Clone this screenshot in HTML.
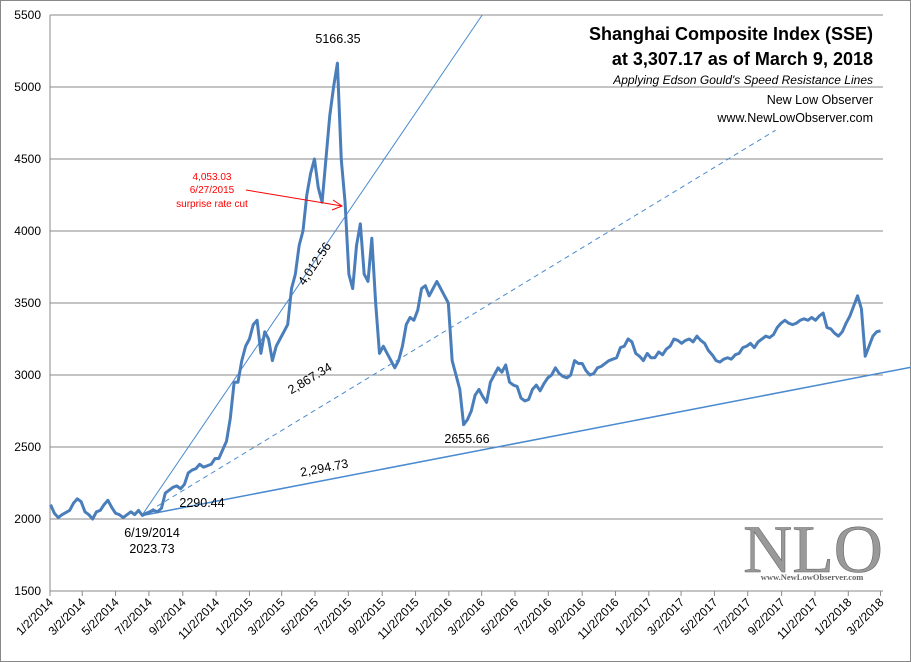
<!DOCTYPE html>
<html><head><meta charset="utf-8"><style>
body{margin:0;background:#fff}
svg{display:block;font-family:"Liberation Sans",sans-serif}
</style></head><body>
<svg id="c" width="911" height="662">
<rect x="0.5" y="0.5" width="910" height="661" fill="#fff" stroke="#888"/>
<g id="grid"></g><g id="axes"></g><g id="lines"></g><g id="series"></g>
<g font-size="12.5" fill="#000">
<text x="338" y="43" text-anchor="middle">5166.35</text>
<text x="467" y="443" text-anchor="middle">2655.66</text>
<text x="202" y="507" text-anchor="middle">2290.44</text>
<text x="152" y="537" text-anchor="middle">6/19/2014</text>
<text x="152" y="553" text-anchor="middle">2023.73</text>
<text transform="translate(318,266) rotate(-56)" text-anchor="middle">4,012.56</text>
<text transform="translate(312,382) rotate(-31)" text-anchor="middle">2,867.34</text>
<text transform="translate(325,472) rotate(-11)" text-anchor="middle">2,294.73</text>
</g>
<g fill="#f00" font-size="10" text-anchor="middle">
<text x="212" y="180">4,053.03</text><text x="212" y="193">6/27/2015</text><text x="212" y="207">surprise rate cut</text>
<line x1="246" y1="190" x2="342" y2="206" stroke="#f00" stroke-width="1"/>
<polyline points="333,200 342,206 332,210" fill="none" stroke="#f00"/>
</g>
<g text-anchor="end">
<rect x="585" y="18" width="296" height="58" fill="#fff"/>
<text x="873" y="40" font-size="18" font-weight="bold">Shanghai Composite Index (SSE)</text>
<text x="873" y="65" font-size="18" font-weight="bold">at 3,307.17 as of March 9, 2018</text>
<text x="873" y="84" font-size="12" font-style="italic">Applying Edson Gould's Speed Resistance Lines</text>
<text x="873" y="104" font-size="12.5">New Low Observer</text>
<text x="873" y="122" font-size="12.5">www.NewLowObserver.com</text>
</g>
<g font-family="'Liberation Serif',serif" fill="#888">
<text x="813" y="572" font-size="68" text-anchor="middle" fill="#999" stroke="#666" stroke-width="0.6">NLO</text>
<text x="812" y="580" font-size="8.5" font-weight="bold" text-anchor="middle" fill="#666">www.NewLowObserver.com</text>
</g>
</svg>
<script>
const yTicks=[1500,2000,2500,3000,3500,4000,4500,5000,5500];
const xTickLabels=["1/2/2014","3/2/2014","5/2/2014","7/2/2014","9/2/2014","11/2/2014","1/2/2015","3/2/2015","5/2/2015","7/2/2015","9/2/2015","11/2/2015","1/2/2016","3/2/2016","5/2/2016","7/2/2016","9/2/2016","11/2/2016","1/2/2017","3/2/2017","5/2/2017","7/2/2017","9/2/2017","11/2/2017","1/2/2018","3/2/2018"];
const v2014=[2100,2040,2010,2030,2045, 2060,2110,2140,2120, 2050,2030,2000,2050, 2060,2100,2130,2080,2040, 2030,2010,2030,2050, 2030,2060,2025,2040, 2050,2060,2050,2075,2180, 2200,2220,2230,2210, 2240,2320,2340,2350, 2380,2360,2370,2380,2420, 2420,2480,2540,2700, 2950,2950,3100,3200];
const v2015=[3250,3350,3380,3150,3300, 3250,3100,3200,3250, 3300,3350,3600,3700, 3900,4000,4250,4400,4500, 4300,4200,4500,4800, 5000,5166,4500,4200, 3700,3600,3900,4050,3700, 3650,3950,3500,3150, 3200,3150,3100,3050, 3100,3200,3350,3400,3380, 3450,3600,3620,3550, 3600,3650,3600,3550];
const v2016=[3500,3100,3000,2900,2655, 2690,2750,2860,2900, 2850,2810,2950,3000, 3050,3020,3070,2950,2930, 2920,2840,2820,2830, 2900,2930,2890,2940, 2980,3000,3050,3010,2990, 2980,3000,3100,3080, 3080,3030,3000,3010, 3050,3060,3080,3100,3110, 3120,3190,3200,3250, 3230,3150,3130,3100];
const v2017=[3150,3120,3120,3160,3140, 3180,3200,3250,3240, 3220,3240,3250,3230, 3270,3240,3220,3170,3140, 3100,3090,3110,3120, 3110,3140,3150,3190, 3200,3220,3190,3230,3250, 3270,3260,3280,3330, 3360,3380,3360,3350, 3360,3380,3390,3380,3400, 3380,3410,3430,3330, 3320,3290,3270,3300];
const v2018=[3360,3410,3480,3550,3460,3130,3200,3270,3300,3307];
const speedStartDay=[168], speedStartVal=[2023.73];
const speedEndDay=[791,1328,1577], speedEndVal=[5500,4700,3055];
const L=50,R=883,T=15,B=591;
const x=d=>L+d*0.5464;
const y=v=>B-(v-1500)*(B-T)/4000;
const NS="http://www.w3.org/2000/svg";
function mk(tag,parent,attrs){const e=document.createElementNS(NS,tag);for(const k in attrs)e.setAttribute(k,attrs[k]);document.getElementById(parent).appendChild(e);return e;}
yTicks.forEach(v=>{
 if(v>1500){const g=mk('line','grid',{x1:L,x2:R,y1:y(v),y2:y(v),stroke:'#8a8a8a','stroke-width':1});
 
 }
 const t=mk('text','axes',{x:L-9,y:y(v)+4,'text-anchor':'end','font-size':12});
 t.textContent=v;
 
 
});
const ax=mk('path','axes',{d:`M${L},${T}V${B}H${R}`,stroke:'#8a8a8a',fill:'none'});


xTickLabels.forEach((s,i)=>{
 const p=s.split('/');const d=(Date.UTC(+p[2],+p[0]-1,+p[1])-Date.UTC(2014,0,2))/864e5;
 const xx=x(d);
 const tk=mk('line','axes',{x1:xx,x2:xx,y1:B,y2:B+5,stroke:'#8a8a8a'});
 
 
 const t=mk('text','axes',{transform:`translate(${xx+4},${B+12}) rotate(-45)`,'text-anchor':'end','font-size':12});
 t.textContent=s;
 
 
});
const vals=[].concat(v2014,v2015,v2016,v2017,v2018);
const pts=vals.map((v,i)=>x(i*7+1)+','+y(v)).join(' ');
const pl=mk('polyline','series',{points:pts,fill:'none',stroke:'#4a7ebb','stroke-width':3,'stroke-linejoin':'round'});


speedEndDay.forEach((d,i)=>{
 const ln=mk('line','lines',{x1:x(speedStartDay[0]),y1:y(speedStartVal[0]),x2:x(d),y2:y(speedEndVal[i]),stroke:'#4a8ad0','stroke-width':i==2?1.5:1,'stroke-dasharray':i==1?'5,4':'none'});
 
 
});
</script>
</body></html>
